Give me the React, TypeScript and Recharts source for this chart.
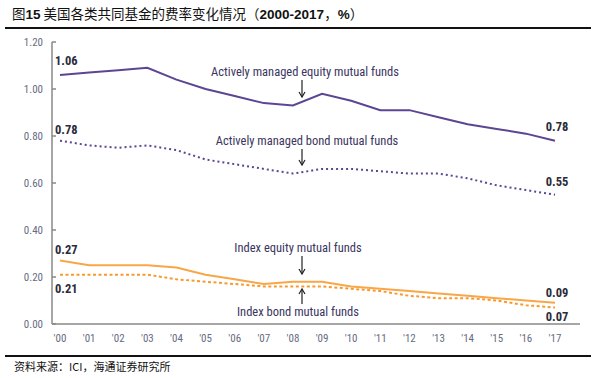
import { Line, LineChart, XAxis, YAxis, LabelList } from "recharts"

const years = ["'00", "'01", "'02", "'03", "'04", "'05", "'06", "'07", "'08", "'09", "'10", "'11", "'12", "'13", "'14", "'15", "'16", "'17"]
const activeEquity = [1.06, 1.07, 1.08, 1.09, 1.04, 1.0, 0.97, 0.94, 0.93, 0.98, 0.95, 0.91, 0.91, 0.88, 0.85, 0.83, 0.81, 0.78]
const activeBond = [0.78, 0.76, 0.75, 0.76, 0.74, 0.7, 0.68, 0.66, 0.64, 0.66, 0.66, 0.65, 0.64, 0.64, 0.62, 0.59, 0.57, 0.55]
const indexEquity = [0.27, 0.25, 0.25, 0.25, 0.24, 0.21, 0.19, 0.17, 0.18, 0.18, 0.16, 0.15, 0.14, 0.13, 0.12, 0.11, 0.1, 0.09]
const indexBond = [0.21, 0.21, 0.21, 0.21, 0.19, 0.18, 0.17, 0.16, 0.16, 0.16, 0.15, 0.14, 0.12, 0.11, 0.11, 0.1, 0.08, 0.07]
const yTicks = [0, 0.2, 0.4, 0.6, 0.8, 1.0, 1.2]

const data = years.map((year, i) => ({
  year,
  activeEquity: activeEquity[i],
  activeBond: activeBond[i],
  indexEquity: indexEquity[i],
  indexBond: indexBond[i],
}))

const PURPLE = "#5c4592"
const ORANGE = "#f9a648"
const ORANGE_DOT = "#f79a2e"
const FONT = "'Liberation Sans Narrow', 'Roboto Condensed', Roboto, sans-serif"
const NOTE = "#3b3560"
const last = years.length - 1

function endLabels(startDy: number, endDy: number) {
  return (props: any) => {
    const { x, y, value, index } = props
    if (index !== 0 && index !== last) return null
    const first = index === 0
    return (
      <text
        x={first ? x - 5 : x + 2}
        y={y + (first ? startDy : endDy)}
        textAnchor={first ? "start" : "middle"}
        fontFamily={FONT}
        fontSize={12.5}
        fontWeight="bold"
        fill="#2b2b3b"
      >
        {Number(value).toFixed(2)}
      </text>
    )
  }
}

function YTick(props: any) {
  const { x, y, payload } = props
  return (
    <g>
      <line x1={52} x2={56} y1={y} y2={y} stroke="#888" strokeWidth={1.5} />
      <text x={x} y={y + 4} textAnchor="end" fontFamily={FONT} fontSize={11} fill="#666b82">
        {payload.value.toFixed(2)}
      </text>
    </g>
  )
}

function Arrow({ x, y1, y2 }: { x: number; y1: number; y2: number }) {
  const dir = y2 > y1 ? 1 : -1
  return (
    <g stroke="#222" strokeWidth={1.2} fill="none">
      <line x1={x} x2={x} y1={y1} y2={y2} />
      <polyline points={`${x - 3},${y2 - dir * 5} ${x},${y2} ${x + 3},${y2 - dir * 5}`} />
    </g>
  )
}

export default function App() {
  return (
    <div style={{ position: "absolute", left: 0, top: 0, width: 597, height: 378, background: "#fff" }}>
      <div
        style={{
          position: "absolute",
          left: 12,
          top: 3,
          fontFamily: "'Noto Sans CJK SC', sans-serif",
          fontSize: 13.5,
          color: "#111",
          whiteSpace: "nowrap",
        }}
      >
        图<b style={{ fontFamily: "'Liberation Sans', Arial, sans-serif" }}>15</b> 美国各类共同基金的费率变化情况（
        <b style={{ fontFamily: "'Liberation Sans', Arial, sans-serif" }}>2000-2017</b>，
        <b style={{ fontFamily: "'Liberation Sans', Arial, sans-serif" }}>%</b>）
      </div>
      <div style={{ position: "absolute", left: 5, top: 27, width: 586, height: 1.5, background: "#111" }} />
      <div style={{ position: "absolute", left: 5, top: 355, width: 586, height: 1.5, background: "#111" }} />
      <div
        style={{
          position: "absolute",
          left: 14,
          top: 358,
          fontFamily: "'Noto Sans CJK SC', sans-serif",
          fontSize: 11,
          color: "#111",
          whiteSpace: "nowrap",
        }}
      >
        资料来源：ICI，海通证券研究所
      </div>

      <div style={{ position: "absolute", left: 0, top: 0 }}>
        <LineChart width={597} height={378} data={data} margin={{ top: 42, right: 17, bottom: 34, left: 12 }}>
          <XAxis
            dataKey="year"
            height={20}
            padding={{ left: 8, right: 25 }}
            tickLine={false}
            axisLine={{ stroke: "#888", strokeWidth: 1.5 }}
            tick={{ fontFamily: FONT, fontSize: 11, fill: "#666b82" }}
            tickMargin={4}
            interval={0}
          />
          <YAxis
            width={40}
            domain={[0, 1.2]}
            ticks={yTicks}
            tickLine={false}
            tickSize={7}
            axisLine={{ stroke: "#888", strokeWidth: 1.5 }}
            tick={<YTick />}
          />
          <Line
            type="linear"
            dataKey="activeEquity"
            stroke={PURPLE}
            strokeWidth={2}
            dot={false}
            isAnimationActive={false}
          >
            <LabelList dataKey="activeEquity" content={endLabels(-10, -10)} />
          </Line>
          <Line
            type="linear"
            dataKey="activeBond"
            stroke={PURPLE}
            strokeWidth={2}
            strokeDasharray="2 3"
            dot={false}
            isAnimationActive={false}
          >
            <LabelList dataKey="activeBond" content={endLabels(-7, -9)} />
          </Line>
          <Line
            type="linear"
            dataKey="indexEquity"
            stroke={ORANGE}
            strokeWidth={2}
            dot={false}
            isAnimationActive={false}
          >
            <LabelList dataKey="indexEquity" content={endLabels(-7, -6)} />
          </Line>
          <Line
            type="linear"
            dataKey="indexBond"
            stroke={ORANGE_DOT}
            strokeWidth={2}
            strokeDasharray="3 2.5"
            dot={false}
            isAnimationActive={false}
          >
            <LabelList dataKey="indexBond" content={endLabels(18, 13)} />
          </Line>
        </LineChart>
      </div>

      <svg width={597} height={378} style={{ position: "absolute", left: 0, top: 0, pointerEvents: "none" }}>
        <g fontFamily={FONT} fontSize={12.5} fill={NOTE} textAnchor="middle">
          <text x={305} y={76}>Actively managed equity mutual funds</text>
          <text x={307} y={145}>Actively managed bond mutual funds</text>
          <text x={298} y={252}>Index equity mutual funds</text>
          <text x={298} y={316}>Index bond mutual funds</text>
        </g>
        <Arrow x={302} y1={80} y2={97} />
        <Arrow x={302} y1={149} y2={165} />
        <Arrow x={302} y1={256} y2={274} />
        <Arrow x={302} y1={304} y2={289} />
      </svg>
    </div>
  )
}
